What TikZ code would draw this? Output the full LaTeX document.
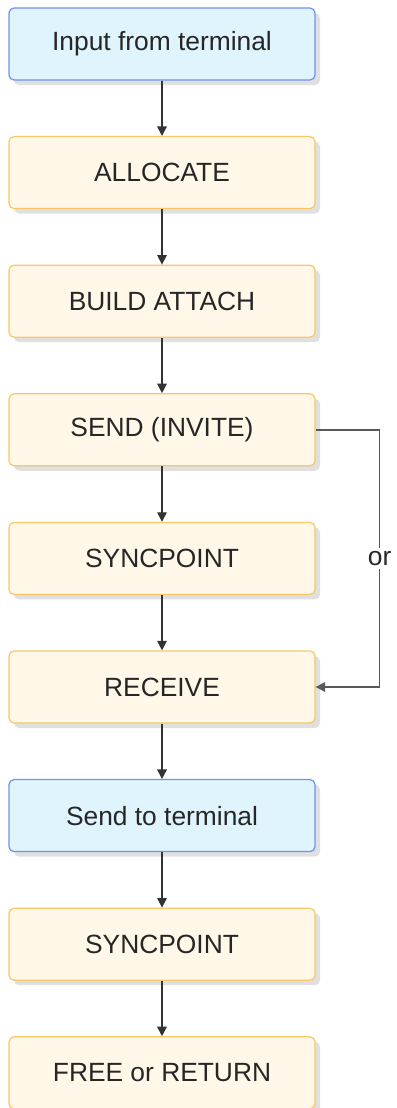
\documentclass[tikz,border=0pt]{standalone}
\usepackage{fontspec}
\setmainfont{Liberation Sans}
\usetikzlibrary{arrows.meta,shadows}
\definecolor{termfill}{HTML}{DFF4FD}
\definecolor{termline}{HTML}{6E92F0}
\definecolor{stepfill}{HTML}{FFF8E8}
\definecolor{stepline}{HTML}{F8C768}
\begin{document}
\begin{tikzpicture}[
    box/.style={draw, line width=0.7pt, rounded corners=0.1cm, minimum width=6.12cm,
      minimum height=1.44cm, inner sep=0pt, text=black!85, font=\fontsize{15}{18}\selectfont,
      drop shadow={shadow xshift=0.1cm, shadow yshift=-0.1cm, fill=black!12, opacity=1}},
    term/.style={box, fill=termfill, draw=termline},
    stepbox/.style={box, fill=stepfill, draw=stepline},
    arr/.style={-{Triangle[length=0.19cm, width=0.19cm]}, line width=0.8pt, black!80},
    lbl/.style={font=\fontsize{15}{18}\selectfont, text=black!85, fill=white, inner sep=2pt},
  ]
    \useasboundingbox (0,0) rectangle (7.94,-22.16);
    \def\dy{2.572} % distance between box centres

    % === Boxes, top to bottom ===
    \foreach \i/\s/\t in {0/term/Input from terminal, 1/stepbox/ALLOCATE,
        2/stepbox/BUILD ATTACH, 3/stepbox/SEND (INVITE), 4/stepbox/SYNCPOINT,
        5/stepbox/RECEIVE, 6/term/Send to terminal, 7/stepbox/SYNCPOINT,
        8/stepbox/FREE or RETURN} {
      \node[\s] (b\i) at (3.24, -0.88-\i*\dy) {\t};
    }

    % Straight arrows
    \foreach \i [evaluate=\i as \j using int(\i+1)] in {0,...,7} {
      \draw[arr] (b\i.south) -- (b\j.north);
    }

    % SEND (INVITE) may go straight to RECEIVE
    \draw[arr, black!65] (b3.east) -- ++(1.28,0) |- node[lbl, pos=0.25] {or} (b5.east);
\end{tikzpicture}
\end{document}
